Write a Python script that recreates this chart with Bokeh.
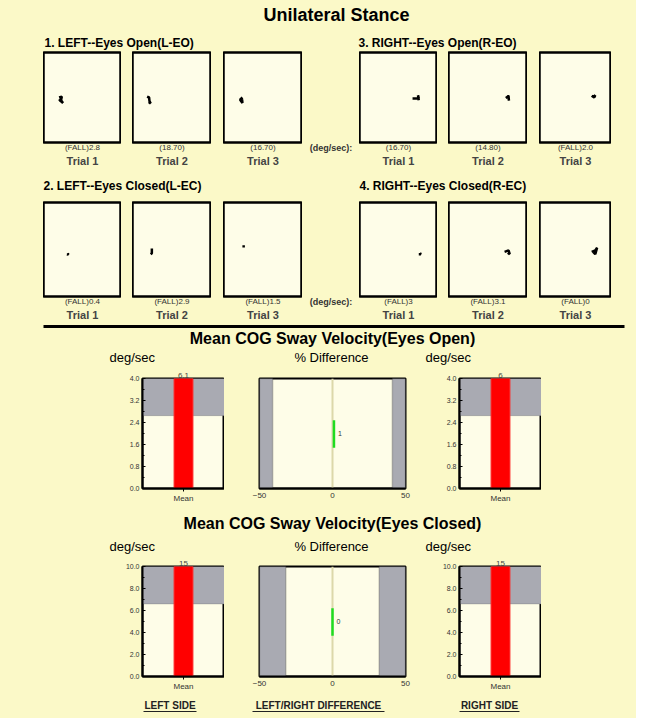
from bokeh.plotting import figure
from bokeh.layouts import row, column
from bokeh.models import (Spacer, Range1d, FactorRange, BoxAnnotation, Span,
                          FixedTicker, NumeralTickFormatter)
from bokeh.core.properties import value
from bokeh.embed import file_html
from bokeh.resources import INLINE

FONT = "Liberation Sans"
BG = "#fbf9c8"
PANEL = "#fefde8"
GRAY = "#a9aab2"
W = 636
X0 = 8  # horizontal offset of the content

# ---------------- data ----------------
main_title = "Unilateral Stance"
group_titles = ["1. LEFT--Eyes Open(L-EO)", "3. RIGHT--Eyes Open(R-EO)",
                "2. LEFT--Eyes Closed(L-EC)", "4. RIGHT--Eyes Closed(R-EC)"]
trial_names = ["Trial 1", "Trial 2", "Trial 3"]
unit_label = "(deg/sec):"

leo_scores = ["(FALL)2.8", "(18.70)", "(16.70)"]
reo_scores = ["(16.70)", "(14.80)", "(FALL)2.0"]
lec_scores = ["(FALL)0.4", "(FALL)2.9", "(FALL)1.5"]
rec_scores = ["(FALL)3", "(FALL)3.1", "(FALL)0"]

# COG sway traces (normalised box coordinates)
leo_x = [[-0.60, -0.53, -0.55, -0.50, -0.56, -0.60], [-0.63, -0.58, -0.57, -0.54, -0.59], [-0.52, -0.58, -0.52, -0.53]]
leo_y = [[0.00, 0.02, -0.06, -0.12, -0.08, -0.04], [0.02, 0.00, -0.08, -0.13, -0.10], [0.00, -0.05, -0.12, -0.04]]
reo_x = [[0.36, 0.52, 0.50, 0.52], [0.45, 0.52, 0.53, 0.51], [0.45, 0.52, 0.55, 0.48]]
reo_y = [[-0.02, -0.02, 0.05, -0.06], [-0.01, 0.03, -0.07, 0.05], [0.04, 0.00, 0.05, 0.00]]
lec_x = [[-0.40, -0.36, -0.38], [-0.51, -0.51, -0.54], [-0.49, -0.49]]
lec_y = [[-0.10, -0.11, -0.08], [0.02, -0.08, -0.10], [0.09, 0.04]]
rec_x = [[0.52, 0.57, 0.55], [0.42, 0.52, 0.55, 0.50], [0.45, 0.55, 0.60, 0.55, 0.50]]
rec_y = [[-0.10, -0.10, -0.07], [-0.05, -0.02, -0.10, -0.07], [-0.05, -0.02, 0.04, -0.10, -0.06]]

section_titles = ["Mean COG Sway Velocity(Eyes Open)", "Mean COG Sway Velocity(Eyes Closed)"]
sub_titles = ["deg/sec", "% Difference", "deg/sec"]
side_titles = ["LEFT SIDE", "LEFT/RIGHT DIFFERENCE", "RIGHT SIDE"]
bar_category = ["Mean"]

open_left, open_right = 6.1, 6.0
open_left_label, open_right_label = "6.1", "6"
closed_left, closed_right = 15, 15
closed_left_label, closed_right_label = "15", "15"
open_norm_limit = 2.65
closed_norm_limit = 6.6
open_yticks = [0.0, 0.8, 1.6, 2.4, 3.2, 4.0]
open_yminor = [0.4, 1.2, 2.0, 2.8, 3.6]
closed_yticks = [0, 2, 4, 6, 8, 10]
closed_yminor = [1, 3, 5, 7, 9]
diff_ticks = [-50, 0, 50]
open_diff, closed_diff = 1, 0
open_diff_limit, closed_diff_limit = 41, 32


# ---------------- helpers ----------------
def base(width, height, **kw):
    p = figure(width=width, height=height, output_backend="svg", toolbar_location=None, **kw)
    p.background_fill_color = BG
    p.border_fill_color = BG
    p.outline_line_color = None
    return p


def txt(p, x, y, s, size, bold=False, align="left", color="black"):
    p.text(x=[x], y=[y], text=[s], text_font=value(FONT), text_font_size=f"{size}px",
           text_font_style="bold" if bold else "normal", text_align=align,
           text_baseline="middle", text_color=color)


def strip(h):
    p = base(W, h, x_range=Range1d(0, W), y_range=Range1d(h, 0),
             x_axis_location=None, y_axis_location=None,
             min_border_left=0, min_border_right=0, min_border_top=0, min_border_bottom=0)
    p.grid.visible = False
    return p


def label_axis(p, label, trial, size="8px", style="normal"):
    ax = p.xaxis[0]
    ax.ticker = FixedTicker(ticks=[0])
    ax.major_label_overrides = {0: label}
    ax.axis_line_color = None
    ax.major_tick_line_color = None
    ax.minor_tick_line_color = None
    ax.major_tick_in = ax.major_tick_out = 0
    ax.minor_tick_in = ax.minor_tick_out = 0
    ax.major_label_standoff = 0
    ax.major_label_text_font = FONT
    ax.major_label_text_font_size = size
    ax.major_label_text_font_style = style
    ax.major_label_text_color = "#333333"
    if trial:
        ax.axis_label = trial
        ax.axis_label_standoff = 0
        ax.axis_label_text_font = FONT
        ax.axis_label_text_font_size = "11px"
        ax.axis_label_text_font_style = "bold"


def sway_fig(xs, ys, score, trial, w, top, fh, bottom):
    p = base(w, top + fh + bottom, x_range=Range1d(-1, 1), y_range=Range1d(-1, 1),
             y_axis_location=None, min_border_left=0, min_border_right=0,
             min_border_top=top, min_border_bottom=bottom)
    p.grid.visible = False
    p.background_fill_color = PANEL
    p.outline_line_color = "black"
    p.outline_line_width = 2.5
    p.line(xs, ys, line_width=2.5, color="black")
    label_axis(p, score, trial)
    return p


def sway_row(lx, ly, lsc, rx, ry, rsc, top, fh, bottom):
    h = top + fh + bottom
    items = [Spacer(width=X0 + 35, height=h)]
    lw, lgap = [78, 79, 79], [11, 12]
    for i in range(3):
        items.append(sway_fig(lx[i], ly[i], lsc[i], trial_names[i], lw[i], top, fh, bottom))
        if i < 2:
            items.append(Spacer(width=lgap[i], height=h))
    mid = base(57, h, x_range=Range1d(-1, 1), y_range=Range1d(-1, 1),
               y_axis_location=None, min_border_left=0, min_border_right=0,
               min_border_top=top, min_border_bottom=bottom)
    mid.grid.visible = False
    label_axis(mid, unit_label, None, size="9px", style="bold")
    items.append(mid)
    rw, rgap = [78, 79, 72], [11, 12]
    for i in range(3):
        items.append(sway_fig(rx[i], ry[i], rsc[i], trial_names[i], rw[i], top, fh, bottom))
        if i < 2:
            items.append(Spacer(width=rgap[i], height=h))
    return row(items, spacing=0)


def bar_fig(val, label, ymax, ticks, minor, limit, top, bottom):
    p = base(114, top + 110 + bottom, x_range=FactorRange(factors=bar_category),
             y_range=Range1d(0, ymax), min_border_left=32, min_border_right=0,
             min_border_top=top, min_border_bottom=bottom, title=label)
    p.grid.visible = False
    p.background_fill_color = PANEL
    p.outline_line_color = "black"
    p.outline_line_width = 2
    p.title.align = "center"
    p.title.text_font = FONT
    p.title.text_font_size = "8px"
    p.title.text_font_style = "normal"
    p.title.standoff = 1
    p.add_layout(BoxAnnotation(bottom=limit, fill_color=GRAY, fill_alpha=1,
                               line_color="#666666", line_width=1, level="underlay"))
    p.vbar(x=bar_category, top=[val], width=0.23, fill_color="#ff0000", line_color="#ff2a2a")
    ya = p.yaxis[0]
    ya.ticker = FixedTicker(ticks=ticks, minor_ticks=minor)
    ya.formatter = NumeralTickFormatter(format="0.0")
    ya.major_tick_in, ya.major_tick_out = 3, 0
    ya.minor_tick_in, ya.minor_tick_out = 2, 0
    ya.major_label_standoff = 3
    ya.major_label_text_font = FONT
    ya.major_label_text_font_size = "7px"
    ya.major_label_text_color = "#333333"
    ya.axis_line_width = 2
    xa = p.xaxis[0]
    xa.major_tick_in, xa.major_tick_out = 0, 3
    xa.major_label_standoff = 2
    xa.major_label_text_font = FONT
    xa.major_label_text_font_size = "8px"
    xa.major_label_text_color = "#333333"
    xa.axis_line_width = 2
    return p


def diff_fig(d, lim, top, bottom):
    p = base(166, top + 110 + bottom, x_range=Range1d(-50, 50), y_range=Range1d(0, 1),
             y_axis_location=None, min_border_left=10, min_border_right=10,
             min_border_top=top, min_border_bottom=bottom)
    p.grid.visible = False
    p.background_fill_color = PANEL
    p.outline_line_color = "black"
    p.outline_line_width = 2
    p.add_layout(BoxAnnotation(right=-lim, fill_color=GRAY, fill_alpha=1,
                               line_color="#444444", line_width=1.5, level="underlay"))
    p.add_layout(BoxAnnotation(left=lim, fill_color=GRAY, fill_alpha=1,
                               line_color="#444444", line_width=1.5, level="underlay"))
    p.add_layout(Span(location=0, dimension="height", line_color="#dcd8aa",
                      line_width=2, level="underlay"))
    p.segment(x0=[d], y0=[0.37], x1=[d], y1=[0.62], line_color="#1fdc1f", line_width=2.5)
    p.text(x=[d], y=[0.5], text=[f"{d}"], x_offset=4, text_font=value(FONT),
           text_font_size="7px", text_baseline="middle", text_color="#333333")
    xa = p.xaxis[0]
    xa.ticker = FixedTicker(ticks=diff_ticks)
    xa.major_tick_line_color = None
    xa.minor_tick_line_color = None
    xa.major_tick_in = xa.major_tick_out = 0
    xa.minor_tick_in = xa.minor_tick_out = 0
    xa.major_label_standoff = 4
    xa.major_label_text_font = FONT
    xa.major_label_text_font_size = "8px"
    xa.major_label_text_color = "#333333"
    xa.axis_line_width = 2
    return p


def bar_row(lv, ll, rv, rl, ymax, ticks, minor, lim, d, dlim, top, bottom):
    h = top + 110 + bottom
    return row([Spacer(width=X0 + 102, height=h),
                bar_fig(lv, ll, ymax, ticks, minor, lim, top, bottom),
                Spacer(width=25, height=h),
                diff_fig(d, dlim, top, bottom),
                Spacer(width=12, height=h),
                bar_fig(rv, rl, ymax, ticks, minor, lim, top, bottom)], spacing=0)


# ---------------- build ----------------
t0 = strip(34)
txt(t0, X0 + 328, 14, main_title, 18, bold=True, align="center")

h1 = strip(16)
txt(h1, X0 + 36, 8, group_titles[0], 12, bold=True)
txt(h1, X0 + 350, 8, group_titles[1], 12, bold=True)

r1 = sway_row(leo_x, leo_y, leo_scores, reo_x, reo_y, reo_scores,
              top=2, fh=90, bottom=30)

h2 = strip(22)
txt(h2, X0 + 35, 13, group_titles[2], 12, bold=True)
txt(h2, X0 + 351, 13, group_titles[3], 12, bold=True)

r2 = sway_row(lec_x, lec_y, lec_scores, rec_x, rec_y, rec_scores,
              top=8, fh=94, bottom=28)

sA = strip(42)
sA.segment(x0=[X0 + 35], y0=[2], x1=[X0 + 616], y1=[2], line_color="black", line_width=3)
txt(sA, X0 + 324, 14, section_titles[0], 16, bold=True, align="center")
txt(sA, X0 + 101, 33, sub_titles[0], 13)
txt(sA, X0 + 323, 33, sub_titles[1], 13, align="center")
txt(sA, X0 + 417, 33, sub_titles[2], 13)

b1 = bar_row(open_left, open_left_label, open_right, open_right_label, 4.0,
             open_yticks, open_yminor, open_norm_limit, open_diff, open_diff_limit,
             top=12, bottom=22)

sB = strip(46)
txt(sB, X0 + 324, 13, section_titles[1], 16, bold=True, align="center")
txt(sB, X0 + 101, 36, sub_titles[0], 13)
txt(sB, X0 + 323, 36, sub_titles[1], 13, align="center")
txt(sB, X0 + 417, 36, sub_titles[2], 13)

b2 = bar_row(closed_left, closed_left_label, closed_right, closed_right_label, 10,
             closed_yticks, closed_yminor, closed_norm_limit, closed_diff, closed_diff_limit,
             top=10, bottom=19)

sC = strip(23)
side_x = [(135, 188), (244, 376), (451, 511)]
for (a, b), s in zip(side_x, side_titles):
    txt(sC, X0 + (a + b) / 2, 10, s, 10, bold=True, align="center", color="#222222")
    sC.segment(x0=[X0 + a], y0=[16], x1=[X0 + b], y1=[16], line_color="#222222", line_width=1)

page = column([t0, h1, r1, h2, r2, sA, b1, sB, b2, sC], spacing=0,
              styles={"background-color": BG})

open("out.html", "w").write(file_html(page, INLINE))
